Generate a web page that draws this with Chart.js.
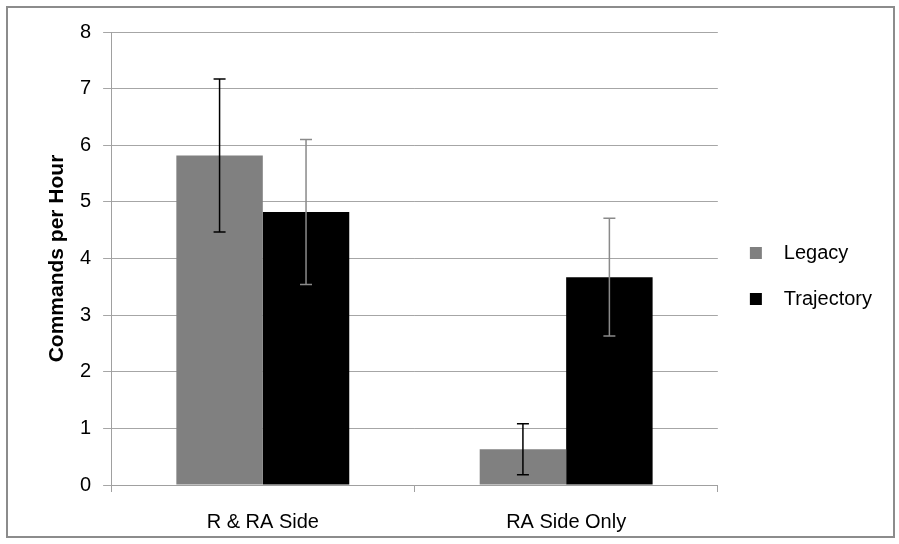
<!DOCTYPE html>
<html>
<head>
<meta charset="utf-8">
<script src="https://cdn.jsdelivr.net/npm/chart.js@4"></script>
<style>
  html, body { margin: 0; padding: 0; background: #fff; }
  #wrap {
    position: absolute; left: 6px; top: 6px;
    width: 889px; height: 532px;
    border: 2px solid #8c8c8c; box-sizing: border-box;
  }
  canvas { display: block; }
</style>
</head>
<body>
<div id="wrap"><canvas id="chart" width="885" height="528"></canvas></div>
<script>
const categories = ["R & RA Side", "RA Side Only"];
const legacy = [5.82, 0.63];
const legacyErr = [1.35, 0.45];
const trajectory = [4.82, 3.67];
const trajectoryErr = [1.28, 1.04];
const yTicks = [0, 1, 2, 3, 4, 5, 6, 7, 8];

// small legend swatch with room after it, so the label sits further right
function swatch(color) {
  const c = document.createElement('canvas');
  c.width = 30; c.height = 12;
  const g = c.getContext('2d');
  g.fillStyle = color;
  g.fillRect(6, 0, 12, 12);
  return c;
}

// draws the error bars through the chart's own scales
const errorBars = {
  id: 'errorBars',
  afterDatasetsDraw(chart) {
    const ctx = chart.ctx;
    const y = chart.scales.y;
    chart.data.datasets.forEach((ds, i) => {
      const meta = chart.getDatasetMeta(i);
      meta.data.forEach((bar, j) => {
        const v = ds.data[j], e = ds.errors[j];
        const top = y.getPixelForValue(v + e);
        const bot = y.getPixelForValue(v - e);
        ctx.save();
        ctx.strokeStyle = ds.errorColor;
        ctx.lineWidth = 1.5;
        ctx.beginPath();
        ctx.moveTo(bar.x, top); ctx.lineTo(bar.x, bot);
        ctx.moveTo(bar.x - 6, top); ctx.lineTo(bar.x + 6, top);
        ctx.moveTo(bar.x - 6, bot); ctx.lineTo(bar.x + 6, bot);
        ctx.stroke();
        ctx.restore();
      });
    });
  }
};

// x labels sit lower than the squeezed axis box, so let them draw to the bottom
const unclipX = {
  id: 'unclipX',
  afterLayout(chart) {
    chart.scales.x.bottom = chart.height;
  }
};

const ctx = document.getElementById('chart').getContext('2d');
new Chart(ctx, {
  type: 'bar',
  data: {
    labels: categories,
    datasets: [{
      label: 'Legacy',
      data: legacy,
      errors: legacyErr,
      errorColor: '#000',
      backgroundColor: '#808080',
      categoryPercentage: 0.57,
      barPercentage: 1
    }, {
      label: 'Trajectory',
      data: trajectory,
      errors: trajectoryErr,
      errorColor: '#8a8a8a',
      backgroundColor: '#000',
      categoryPercentage: 0.57,
      barPercentage: 1
    }]
  },
  options: {
    responsive: false,
    animation: false,
    layout: { padding: { top: 18, right: 11, bottom: 10, left: 29 } },
    plugins: {
      tooltip: { enabled: false },
      legend: {
        position: 'right',
        labels: {
          color: '#000',
          font: { family: 'Liberation Sans', size: 20 },
          usePointStyle: true,
          pointStyleWidth: 30,
          boxHeight: 12,
          padding: 26,
          generateLabels: chart => {
            const items = Chart.defaults.plugins.legend.labels.generateLabels(chart);
            items.forEach(it => { it.pointStyle = swatch(chart.data.datasets[it.datasetIndex].backgroundColor); });
            return items;
          }
        }
      }
    },
    scales: {
      x: {
        afterFit: axis => { axis.height -= 26; },
        grid: { display: true, drawOnChartArea: false, color: '#a0a0a0', tickLength: 7, offset: true },
        border: { color: '#a0a0a0' },
        ticks: { color: '#000', font: { family: 'Liberation Sans', size: 20 }, padding: 18, maxRotation: 0 }
      },
      y: {
        min: 0,
        max: 8,
        afterBuildTicks: axis => { axis.ticks = yTicks.map(v => ({ value: v })); },
        grid: { color: '#a6a6a6', tickLength: 8 },
        border: { color: '#a0a0a0' },
        ticks: { color: '#000', font: { family: 'Liberation Sans', size: 20 }, padding: 12 },
        title: {
          display: true,
          text: 'Commands per Hour',
          color: '#000',
          font: { family: 'Liberation Sans', size: 21, weight: 'bold', lineHeight: 1 },
          padding: { top: 10, bottom: 0 }
        }
      }
    }
  },
  plugins: [errorBars, unclipX]
});
</script>
</body>
</html>
